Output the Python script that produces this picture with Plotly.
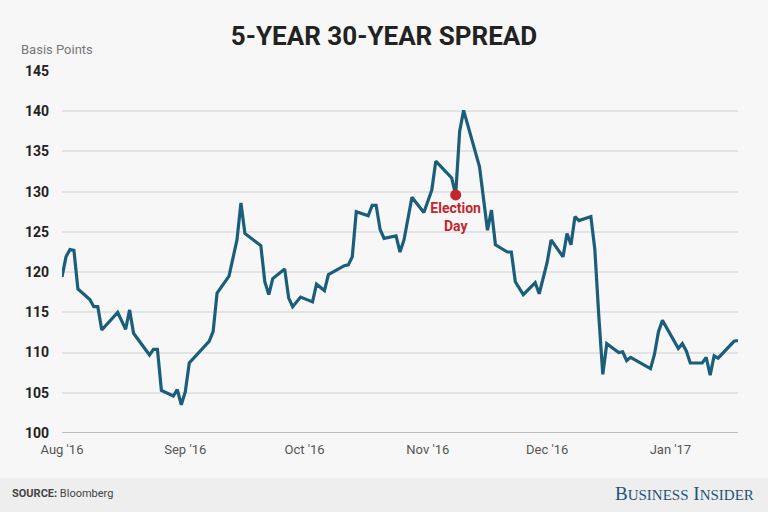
import plotly.graph_objects as go

# 5-year / 30-year Treasury spread, basis points
dates = [
    "2016-08-01", "2016-08-02", "2016-08-03", "2016-08-04", "2016-08-05",
    "2016-08-08", "2016-08-09", "2016-08-10", "2016-08-11", "2016-08-15",
    "2016-08-17", "2016-08-18", "2016-08-19", "2016-08-23", "2016-08-24",
    "2016-08-25", "2016-08-26", "2016-08-29", "2016-08-30", "2016-08-31",
    "2016-09-01", "2016-09-02", "2016-09-07", "2016-09-08", "2016-09-09",
    "2016-09-12", "2016-09-14", "2016-09-15", "2016-09-16", "2016-09-20",
    "2016-09-21", "2016-09-22", "2016-09-23", "2016-09-26", "2016-09-27",
    "2016-09-28", "2016-09-30", "2016-10-03", "2016-10-04", "2016-10-06",
    "2016-10-07", "2016-10-11", "2016-10-12", "2016-10-13", "2016-10-14",
    "2016-10-17", "2016-10-18", "2016-10-19", "2016-10-20", "2016-10-21",
    "2016-10-24", "2016-10-25", "2016-10-26", "2016-10-28", "2016-10-31",
    "2016-11-02", "2016-11-03", "2016-11-07", "2016-11-08", "2016-11-09",
    "2016-11-10", "2016-11-14", "2016-11-16", "2016-11-17", "2016-11-18",
    "2016-11-21", "2016-11-22", "2016-11-23", "2016-11-25", "2016-11-28",
    "2016-11-29", "2016-12-01", "2016-12-02", "2016-12-05", "2016-12-06",
    "2016-12-07", "2016-12-08", "2016-12-09", "2016-12-12", "2016-12-13",
    "2016-12-14", "2016-12-15", "2016-12-16", "2016-12-19", "2016-12-20",
    "2016-12-21", "2016-12-22", "2016-12-27", "2016-12-28", "2016-12-29",
    "2016-12-30", "2017-01-03", "2017-01-04", "2017-01-05", "2017-01-06",
    "2017-01-09", "2017-01-10", "2017-01-11", "2017-01-12", "2017-01-13",
    "2017-01-17", "2017-01-18",
]
spread = [
    119.4, 121.9, 122.8, 122.7, 117.9,
    116.6, 115.7, 115.7, 112.8, 115.0,
    112.9, 115.3, 112.4, 109.7, 110.4,
    110.4, 105.3, 104.6, 105.4, 103.5,
    105.1, 108.7, 111.4, 112.6, 117.4,
    119.5, 124.0, 128.6, 124.8, 123.3,
    118.8, 117.2, 119.2, 120.4, 116.8,
    115.7, 116.9, 116.3, 118.5, 117.7,
    119.7, 120.8, 120.9, 121.9, 127.5,
    127.0, 128.3, 128.3, 125.3, 124.2,
    124.5, 122.5, 124.0, 129.3, 127.4,
    130.2, 133.8, 131.7, 129.6, 137.5,
    140.1, 133.1, 125.2, 127.7, 123.4,
    122.5, 122.5, 118.8, 117.2, 118.7,
    117.3, 121.2, 124.0, 121.9, 124.8,
    123.4, 126.9, 126.4, 126.9, 122.8,
    114.5, 107.3, 111.1, 110.0, 110.1,
    109.0, 109.4, 108.0, 109.8, 112.6,
    114.0, 110.5, 111.1, 110.2, 108.7,
    108.7, 109.4, 107.2, 109.6, 109.3,
    111.4, 111.5,
]

election_date = ["2016-11-08"]
election_value = [129.6]

y_ticks = [100, 105, 110, 115, 120, 125, 130, 135, 140, 145]
x_ticks = ["2016-08-01", "2016-09-01", "2016-10-01", "2016-11-01", "2016-12-01", "2017-01-01"]
x_labels = ["Aug '16", "Sep '16", "Oct '16", "Nov '16", "Dec '16", "Jan '17"]

fig = go.Figure()

fig.add_trace(go.Scatter(
    x=dates, y=spread, mode="lines",
    line=dict(color="#1b5e7b", width=3.2),
    hoverinfo="x+y", showlegend=False,
))

fig.add_trace(go.Scatter(
    x=election_date, y=election_value, mode="markers+text",
    marker=dict(color="#c4262e", size=11),
    text=["Election<br>Day"], textposition="bottom center",
    textfont=dict(family="Roboto", size=14, color="#c4262e", weight="bold"),
    showlegend=False,
))

# footer band
fig.add_shape(type="rect", xref="paper", yref="paper",
              x0=-0.1, x1=1.05, y0=-0.125, y1=-0.23,
              fillcolor="#eeeeee", line=dict(width=0), layer="below")

fig.update_layout(
    width=768, height=512,
    margin=dict(l=62, r=30, t=71, b=79),
    paper_bgcolor="#f7f7f7", plot_bgcolor="#f7f7f7",
    font=dict(family="Roboto", color="#222"),
    title=dict(text="5-YEAR 30-YEAR SPREAD", x=0.5, xanchor="center",
               y=0.93, yanchor="middle",
               font=dict(family="Roboto", size=26, color="#222", weight="bold")),
    xaxis=dict(
        type="date", range=["2016-08-01", "2017-01-18"],
        tickvals=x_ticks, ticktext=x_labels,
        showgrid=False, zeroline=False, showline=False,
        tickfont=dict(size=13, color="#555"),
        ticks="", ticklabelstandoff=7,
    ),
    yaxis=dict(
        range=[100, 145], tickvals=y_ticks,
        showgrid=True, gridcolor="#e3e3e3", gridwidth=2,
        zeroline=False, showline=False,
        tickfont=dict(size=14, color="#222", weight="bold"),
        ticks="", ticklabelstandoff=12,
    ),
    annotations=[
        dict(text="Basis Points", xref="paper", yref="paper", x=-0.063, y=1.06,
             xanchor="left", yanchor="middle", showarrow=False,
             font=dict(size=13, color="#777")),
        dict(text="<b>SOURCE:</b> Bloomberg", xref="paper", yref="paper",
             x=-0.077, y=-0.168, xanchor="left", yanchor="middle", showarrow=False,
             font=dict(size=11, color="#444")),
        dict(text="B<span style='font-size:15px'>USINESS</span> I<span style='font-size:15px'>NSIDER</span>",
             xref="paper", yref="paper", x=1.027, y=-0.168, xanchor="right", yanchor="middle",
             showarrow=False,
             font=dict(family="Liberation Serif", size=19, color="#1f5478")),
    ],
)

# darker baseline at 100
fig.add_shape(type="line", xref="paper", yref="y", x0=0, x1=1, y0=100, y1=100,
              line=dict(color="#bdbdbd", width=2))

# drop the default page margin so the figure sits flush in the window
fig.write_html("out.html", config={"displayModeBar": False},
               post_script="document.body.style.margin='0';")
